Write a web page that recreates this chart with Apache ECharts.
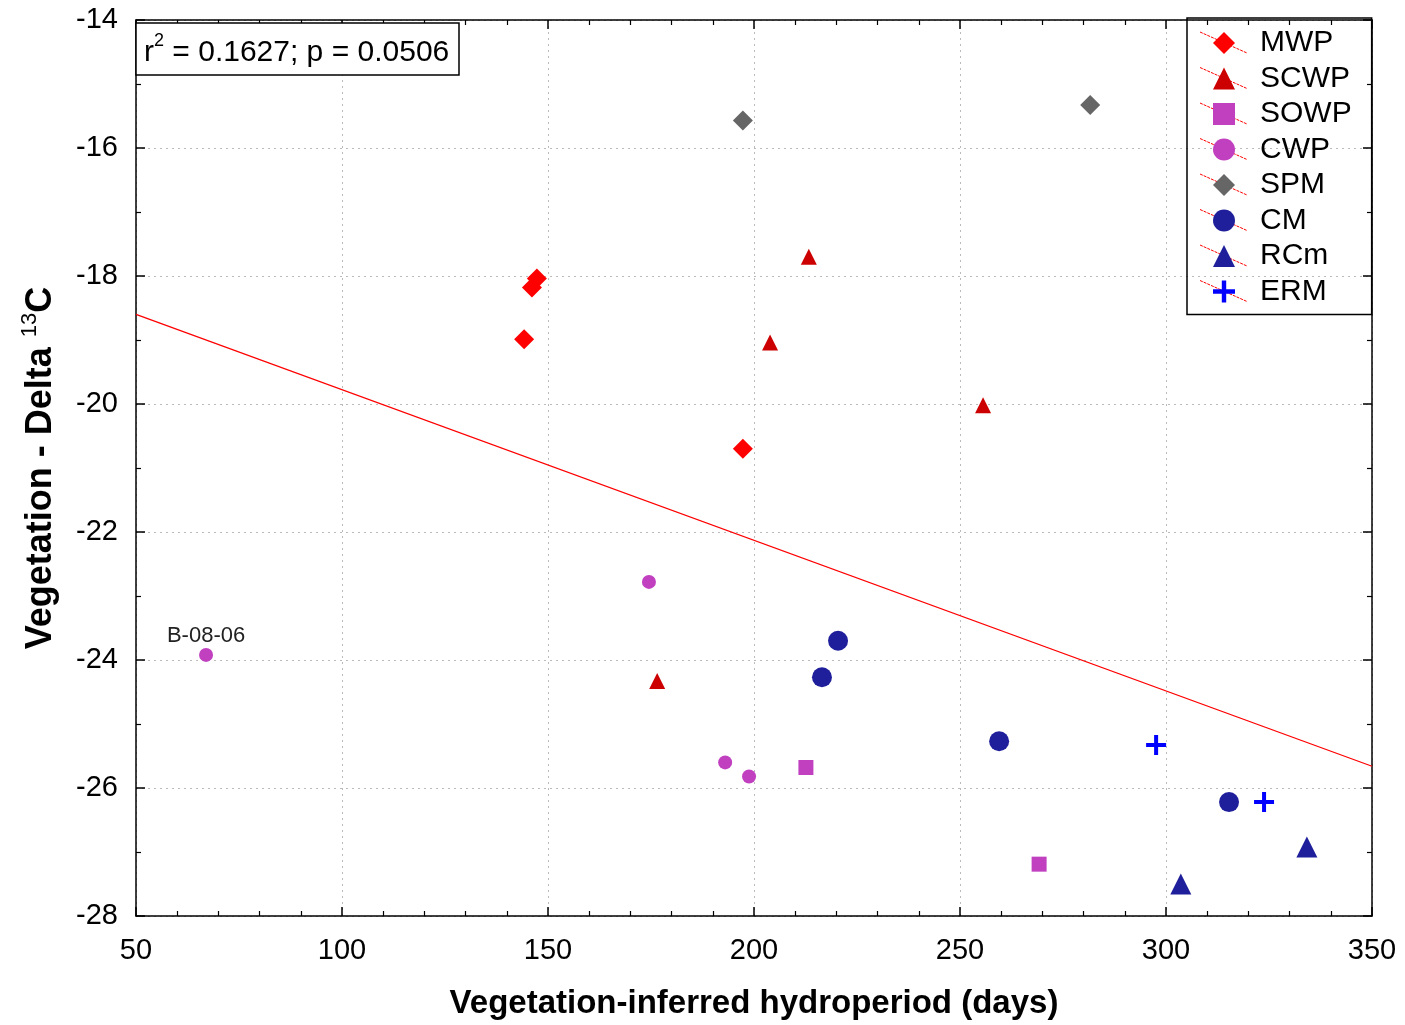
<!DOCTYPE html>
<html>
<head>
<meta charset="utf-8">
<script src="https://cdn.jsdelivr.net/npm/echarts@6/dist/echarts.min.js"></script>
<style>
  html, body { margin: 0; padding: 0; background: #fff; }
  #main { width: 1405px; height: 1025px; }
</style>
</head>
<body>
<div id="main"></div>
<script>
var dom = document.getElementById("main");
var myChart = echarts.init(dom);

// data: [hydroperiod days, delta 13C]
var mwp  = [[147.3, -18.04], [146.1, -18.18], [144.2, -18.99], [197.3, -20.70]];
var scwp = [[213.3, -17.70], [203.9, -19.04], [255.6, -20.02], [176.5, -24.33]];
var sowp = [[212.6, -25.68], [269.2, -27.19]];
var cwp  = [[67.0, -23.92], [174.5, -22.78], [193.0, -25.60], [198.8, -25.82]];
var spm  = [[197.3, -15.57], [281.6, -15.33]];
var cm   = [[220.4, -23.70], [216.5, -24.27], [259.5, -25.27], [315.3, -26.22]];
var rcm  = [[303.6, -27.50], [334.2, -26.92]];
var erm  = [[297.6, -25.33], [323.8, -26.22]];
var fitLine = [[50, -18.60], [350, -25.66]];
var pointLabels = ['B-08-06'];   // label on first CWP point

var plus = 'path://M8,0H12V8H20V12H12V20H8V12H0V8H8Z';
var font = 'Liberation Sans, Arial, sans-serif';

function scatter(name, data, symbol, size, color) {
    return {
        name: name,
        type: 'scatter',
        data: data,
        symbol: symbol,
        symbolSize: size,
        itemStyle: {color: color, opacity: 1},
        z: 5
    };
}

var cwpData = cwp.map(function (p, i) {
    if (i === 0) {
        return {value: p, label: {show: true, formatter: pointLabels[0], position: 'top', distance: 1,
            fontSize: 22, color: '#222', fontFamily: font}};
    }
    return p;
});

// red slanted strokes behind the legend symbols
var legendStrokes = [];
for (var i = 0; i < 8; i++) {
    var yc = 42 + i * 35.5;
    legendStrokes.push({
        type: 'line',
        shape: {x1: 1200, y1: yc - 10, x2: 1247, y2: yc + 11},
        style: {stroke: '#ff0000', lineWidth: 1, lineDash: [3, 1]},
        z: 1
    });
}

option = {
    backgroundColor: '#fff',
    animation: false,
    title: {
        text: '{r|r}{s|2}{r| = 0.1627; p = 0.0506}',
        left: 136,
        top: 23,
        padding: [7, 10, 7, 8],
        borderColor: '#000',
        borderWidth: 1.5,
        backgroundColor: '#fff',
        textStyle: {
            fontWeight: 'normal',
            rich: {
                r: {fontSize: 30, fontWeight: 'normal', fontFamily: font, color: '#000', lineHeight: 38, verticalAlign: 'bottom'},
                s: {fontSize: 18, fontWeight: 'normal', fontFamily: font, color: '#000', lineHeight: 38, verticalAlign: 'top', padding: [2, 0, 0, 0]}
            }
        }
    },
    legend: {
        orient: 'vertical',
        left: 1187,
        top: 18,
        padding: [10, 20, 8, 26],
        itemGap: 5.5,
        itemWidth: 22,
        itemHeight: 22,
        borderColor: '#000',
        borderWidth: 1.5,
        textStyle: {fontSize: 30, lineHeight: 30, fontFamily: font, color: '#000', padding: [0, 0, 0, 20]},
        data: [
            {name: 'MWP', icon: 'diamond'},
            {name: 'SCWP', icon: 'triangle'},
            {name: 'SOWP', icon: 'rect'},
            {name: 'CWP', icon: 'circle'},
            {name: 'SPM', icon: 'diamond'},
            {name: 'CM', icon: 'circle'},
            {name: 'RCm', icon: 'triangle'},
            {name: 'ERM', icon: plus}
        ]
    },
    graphic: legendStrokes,
    grid: {
        left: 136,
        right: 33,
        top: 20,
        bottom: 107
    },
    xAxis: [{
        type: 'value',
        min: 50,
        max: 350,
        interval: 50,
        name: 'Vegetation-inferred hydroperiod (days)',
        nameLocation: 'middle',
        nameGap: 71,
        nameTextStyle: {fontSize: 33, fontWeight: 'bold', fontFamily: font, color: '#000'},
        axisLine: {lineStyle: {color: '#000', width: 1.5}},
        axisTick: {inside: true, length: 9, lineStyle: {color: '#000', width: 1.5}},
        minorTick: {show: true, splitNumber: 5, length: 5, lineStyle: {color: '#000', width: 1.2}},
        axisLabel: {fontSize: 29, fontFamily: font, color: '#000', margin: 20},
        splitLine: {show: true, lineStyle: {color: '#bbb', type: [2, 4], width: 1}}
    }, {
        type: 'value',
        position: 'top',
        min: 50,
        max: 350,
        interval: 50,
        axisLine: {show: true, lineStyle: {color: '#000', width: 1.5}},
        axisTick: {inside: true, length: 9, lineStyle: {color: '#000', width: 1.5}},
        minorTick: {show: true, splitNumber: 5, length: 5, lineStyle: {color: '#000', width: 1.2}},
        axisLabel: {show: false},
        splitLine: {show: false}
    }],
    yAxis: [{
        type: 'value',
        min: -28,
        max: -14,
        interval: 2,
        name: '{t|Vegetation - Delta }{s|13}{t|C}',
        nameLocation: 'middle',
        nameGap: 77,
        nameTextStyle: {
            rich: {
                t: {fontSize: 36, fontWeight: 'bold', fontFamily: font, color: '#000', lineHeight: 40, verticalAlign: 'bottom'},
                s: {fontSize: 22, fontFamily: font, color: '#000', lineHeight: 40, verticalAlign: 'top'}
            }
        },
        axisLine: {lineStyle: {color: '#000', width: 1.5}},
        axisTick: {inside: true, length: 9, lineStyle: {color: '#000', width: 1.5}},
        minorTick: {show: true, splitNumber: 2, length: 5, lineStyle: {color: '#000', width: 1.2}},
        axisLabel: {fontSize: 29, fontFamily: font, color: '#000', margin: 18},
        splitLine: {show: true, lineStyle: {color: '#bbb', type: [2, 4], width: 1}}
    }, {
        type: 'value',
        position: 'right',
        min: -28,
        max: -14,
        interval: 2,
        axisLine: {show: true, lineStyle: {color: '#000', width: 1.5}},
        axisTick: {show: true, inside: true, length: 9, lineStyle: {color: '#000', width: 1.5}},
        minorTick: {show: true, splitNumber: 2, length: 5, lineStyle: {color: '#000', width: 1.2}},
        axisLabel: {show: false},
        splitLine: {show: false}
    }],
    series: [
        {
            name: 'fit',
            type: 'line',
            data: fitLine,
            symbol: 'none',
            lineStyle: {color: '#ff0000', width: 1.3},
            silent: true,
            z: 3
        },
        scatter('MWP', mwp, 'diamond', 20, '#ff0000'),
        scatter('SCWP', scwp, 'triangle', 16, '#cc0000'),
        scatter('SOWP', sowp, 'rect', 15, '#c040c0'),
        scatter('CWP', cwpData, 'circle', 14, '#c040c0'),
        scatter('SPM', spm, 'diamond', 20, '#666666'),
        scatter('CM', cm, 'circle', 20, '#1f1f9c'),
        scatter('RCm', rcm, 'triangle', 21, '#1f1f9c'),
        scatter('ERM', erm, plus, 20, '#0000ff')
    ]
};

myChart.setOption(option, true);
</script>
</body>
</html>
